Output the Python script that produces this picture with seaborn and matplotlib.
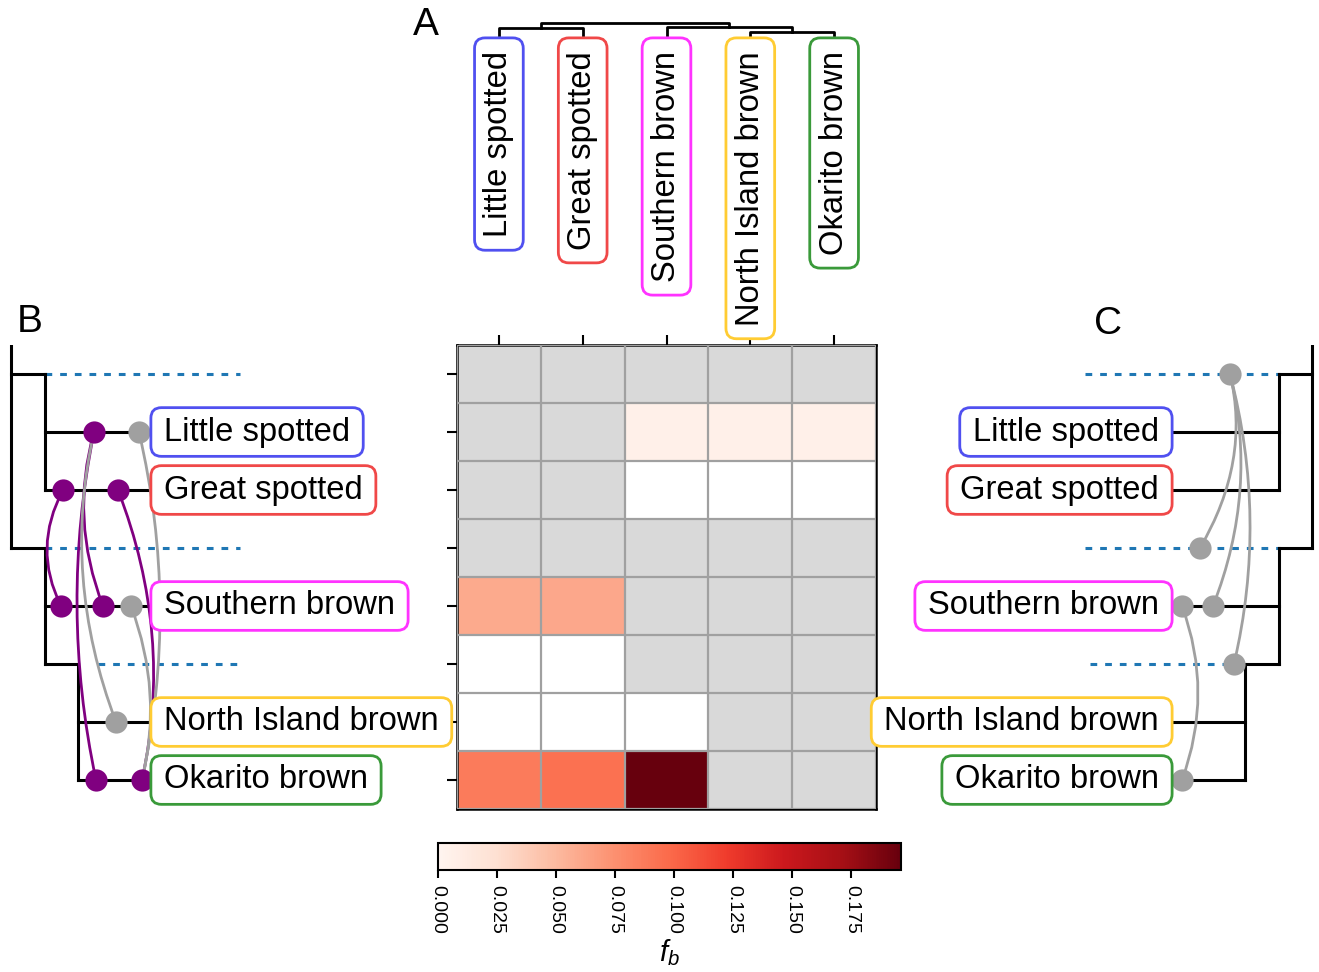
import numpy as np
import pandas as pd
import matplotlib
matplotlib.use("Agg")
import matplotlib.pyplot as plt
import seaborn as sns
from matplotlib.path import Path
from matplotlib.patches import PathPatch

plt.rcParams['font.family'] = ['Liberation Sans', 'DejaVu Sans']
plt.rcParams['mathtext.fontset'] = 'custom'
plt.rcParams['mathtext.it'] = 'Liberation Sans:italic'
plt.rcParams['mathtext.rm'] = 'Liberation Sans'

# ---------------- data ----------------
species = ["Little spotted", "Great spotted", "Southern brown",
           "North Island brown", "Okarito brown"]
species_colors = ["#5050f0", "#f04848", "#ff33ff", "#ffcc33", "#3a9a3a"]
row_names = ["n1", "Little spotted", "Great spotted", "n2",
             "Southern brown", "n3", "North Island brown", "Okarito brown"]
nan = np.nan
fb_values = [
    [nan, nan, nan, nan, nan],
    [nan, nan, 0.006, 0.006, 0.006],
    [nan, nan, 0.0, 0.0, 0.0],
    [nan, nan, nan, nan, nan],
    [0.059, 0.061, nan, nan, nan],
    [0.0, 0.0, nan, nan, nan],
    [0.0, 0.0, 0.0, nan, nan],
    [0.088, 0.094, 0.196, nan, nan],
]
fb_max = 0.196
cbar_ticks = [0.000, 0.025, 0.050, 0.075, 0.100, 0.125, 0.150, 0.175]

# tree topology (shared by panels B and C)
tree_children = {"root": ["n1", "n2"],
                 "n1": ["Little spotted", "Great spotted"],
                 "n2": ["Southern brown", "n3"],
                 "n3": ["North Island brown", "Okarito brown"]}
# node depths (horizontal positions, px) in panels B and C
left_depth = {"root": 11, "n1": 45, "n2": 45, "n3": 78}
left_tip = 150
right_depth = {"root": 1312, "n1": 1279, "n2": 1279, "n3": 1245}
right_tip = 1172

# dotted reference lines at internal branches: (node, x_start, x_end)
left_guides = [("n1", 45, 240), ("n2", 45, 240), ("n3", 98, 237)]
right_guides = [("n1", 1085, 1279), ("n2", 1085, 1279), ("n3", 1090, 1245)]

PURPLE = "#800080"
GREY = "#a0a0a0"
# event points on branches: (branch, x, colour)
left_points = [("Little spotted", 94, PURPLE), ("Little spotted", 139, GREY),
               ("Great spotted", 63, PURPLE), ("Great spotted", 118, PURPLE),
               ("Southern brown", 61, PURPLE), ("Southern brown", 103, PURPLE),
               ("Southern brown", 131, GREY),
               ("North Island brown", 116, GREY),
               ("Okarito brown", 96, PURPLE), ("Okarito brown", 142, PURPLE)]
# links: (branch_from, x_from, branch_to, x_to, x_at_middle, colour)
left_links = [("Great spotted", 63, "Southern brown", 61, 47, PURPLE),
              ("Little spotted", 94, "Okarito brown", 96, 77, PURPLE),
              ("Little spotted", 94, "Southern brown", 103, 84, PURPLE),
              ("Great spotted", 118, "Okarito brown", 142, 152, PURPLE),
              ("Little spotted", 139, "Okarito brown", 142, 160, GREY),
              ("Southern brown", 131, "Okarito brown", 142, 150, GREY),
              ("Little spotted", 94, "North Island brown", 116, 83, GREY)]
right_points = [("n1", 1230, GREY), ("n2", 1200, GREY),
                ("Southern brown", 1213, GREY), ("Southern brown", 1182, GREY),
                ("n3", 1234, GREY), ("Okarito brown", 1182, GREY)]
right_links = [("n1", 1230, "n2", 1200, 1233, GREY),
               ("n1", 1230, "Southern brown", 1213, 1240, GREY),
               ("n1", 1230, "n3", 1234, 1250, GREY),
               ("Southern brown", 1182, "Okarito brown", 1182, 1198, GREY)]

# top dendrogram (panel A): heights in px from top
dendro_leaf_base = 35
dendro_joins = [  # (left child, right child, height)
    ("Little spotted", "Great spotted", 28),
    ("North Island brown", "Okarito brown", 32),
    ("Southern brown", "NI+OK", 27),
    ("LS+GS", "SB+NIOK", 23),
]
join_names = ["LS+GS", "NI+OK", "SB+NIOK", "root"]

# ---------------- figure ----------------
W, H = 1319, 972
fig = plt.figure(figsize=(W / 100, H / 100), dpi=100)


def fax(x0, y0, x1, y1):
    return fig.add_axes([x0 / W, 1 - y1 / H, (x1 - x0) / W, (y1 - y0) / H])


HM = (457, 345, 876, 809)
ax_hm = fax(*HM)
cax = fax(438, 843, 901, 870)
ax_l = fax(0, HM[1], HM[0], HM[3])
ax_r = fax(HM[2], HM[1], W, HM[3])
ax_t = fax(HM[0], 0, HM[2], HM[1])

cmap = plt.get_cmap("Reds").copy()
cmap.set_under("white")
df = pd.DataFrame(fb_values, index=row_names, columns=species)
sns.heatmap(df, ax=ax_hm, cmap=cmap, vmin=1e-6, vmax=fb_max, cbar_ax=cax,
            cbar_kws=dict(orientation="horizontal", ticks=cbar_ticks),
            xticklabels=False, yticklabels=False)
ax_hm.set_facecolor("#d9d9d9")
nr, nc = df.shape
ax_hm.hlines(np.arange(nr + 1), 0, nc, color="#a0a0a0", lw=1.6, zorder=3)
ax_hm.vlines(np.arange(nc + 1), 0, nr, color="#a0a0a0", lw=1.6, zorder=3)
for s in ax_hm.spines.values():
    s.set_visible(True)
    s.set_color("black")
    s.set_linewidth(1.8)
ax_hm.set_xticks(np.arange(nc) + 0.5)
ax_hm.set_yticks(np.arange(nr) + 0.5)
ax_hm.set_xticklabels([])
ax_hm.set_yticklabels([])
ax_hm.xaxis.tick_top()
ax_hm.tick_params(axis="x", top=True, bottom=False, length=7, width=1.5)
ax_hm.tick_params(axis="y", left=True, right=False, length=7, width=1.5)
ax_hm.set_xlabel("")
ax_hm.set_ylabel("")

# colorbar
cb = ax_hm.collections[0].colorbar
cb.outline.set_linewidth(1.5)
cb.outline.set_edgecolor("black")
cax.set_xlim(0, fb_max)
cax.set_xticks(cbar_ticks)
cax.set_xticklabels([f"{t:.3f}" for t in cbar_ticks], rotation=-90, fontsize=14)
cax.tick_params(axis="x", length=6, width=1.5, pad=5)
cax.set_xlabel("$f_b$", fontsize=21, labelpad=2)


# ---------------- label box style ----------------
def label_box(x0, y0, width, height, mutation_size):
    px, py, r = 0.40 * mutation_size, 0.27 * mutation_size, 0.32 * mutation_size
    x0, y0 = x0 - px, y0 - py
    x1, y1 = x0 + width + 2 * px, y0 + height + 2 * py
    verts = [(x0 + r, y0), (x1 - r, y0), (x1, y0), (x1, y0 + r),
             (x1, y1 - r), (x1, y1), (x1 - r, y1), (x0 + r, y1),
             (x0, y1), (x0, y1 - r), (x0, y0 + r), (x0, y0),
             (x0 + r, y0), (x0 + r, y0)]
    codes = [Path.MOVETO, Path.LINETO, Path.CURVE3, Path.CURVE3,
             Path.LINETO, Path.CURVE3, Path.CURVE3, Path.LINETO,
             Path.CURVE3, Path.CURVE3, Path.LINETO, Path.CURVE3,
             Path.CURVE3, Path.CLOSEPOLY]
    return Path(verts, codes)


# ---------------- trees ----------------
def row_y(name):
    if name == "root":
        return 0.0
    return row_names.index(name) + 0.5


def draw_tree(ax, depth, tip):
    def d(n):
        return depth.get(n, tip)
    for node, kids in tree_children.items():
        ys = [row_y(k) for k in kids]
        ax.plot([d(node), d(node)], [row_y(node), max(ys)], color="black",
                lw=2.2, solid_capstyle="projecting", zorder=2)
        for k in kids:
            ax.plot([d(node), d(k)], [row_y(k), row_y(k)], color="black",
                    lw=2.2, solid_capstyle="projecting", zorder=2)


def draw_guides(ax, guides):
    for node, xa, xb in guides:
        ax.plot([xa, xb], [row_y(node)] * 2, color="#1f77b4", lw=2.2,
                linestyle=(0, (2.2, 2.6)), zorder=1)


def draw_links(ax, links):
    for a, xa, b, xb, xm, col in links:
        ya, yb = row_y(a), row_y(b)
        cx = 2 * xm - 0.5 * (xa + xb)
        cy = 0.5 * (ya + yb)
        p = Path([(xa, ya), (cx, cy), (xb, yb)],
                 [Path.MOVETO, Path.CURVE3, Path.CURVE3])
        ax.add_patch(PathPatch(p, fc="none", ec=col, lw=2.0, zorder=3))


def draw_points(ax, pts):
    for br, x, col in pts:
        ax.plot([x], [row_y(br)], "o", color=col, ms=16, mec="none", zorder=4)


for ax, xl in ((ax_l, (0, HM[0])), (ax_r, (HM[2], W))):
    ax.set_xlim(*xl)
    ax.set_ylim(nr, 0)
    ax.axis("off")

draw_tree(ax_l, left_depth, left_tip)
draw_guides(ax_l, left_guides)
draw_links(ax_l, left_links)
draw_points(ax_l, left_points)
draw_tree(ax_r, right_depth, right_tip)
draw_guides(ax_r, right_guides)
draw_links(ax_r, right_links)
draw_points(ax_r, right_points)

LABEL_FS = 23.6
for sp, col in zip(species, species_colors):
    bb = dict(boxstyle=label_box, fc="white", ec=col, lw=2.0)
    ax_l.text(left_tip + 14, row_y(sp), sp, ha="left", va="center",
              fontsize=LABEL_FS, bbox=bb, zorder=5, clip_on=False)
    ax_r.text(right_tip - 13, row_y(sp), sp, ha="right", va="center",
              fontsize=LABEL_FS, bbox=bb, zorder=5, clip_on=False)

# ---------------- top dendrogram ----------------
ax_t.set_xlim(0, nc)
ax_t.set_ylim(HM[1], 0)
ax_t.axis("off")
pos = {sp: (i + 0.5, dendro_leaf_base) for i, sp in enumerate(species)}
for (a, b, h), nm in zip(dendro_joins, join_names):
    xa, ha_ = pos[a]
    xb, hb_ = pos[b]
    ax_t.plot([xa, xa, xb, xb], [ha_, h, h, hb_], color="black", lw=2.0, zorder=2)
    pos[nm] = ((xa + xb) / 2, h)
for sp, col in zip(species, species_colors):
    ax_t.text(species.index(sp) + 0.5, 51, sp, rotation=90, ha="center",
              va="top", fontsize=LABEL_FS, zorder=5,
              bbox=dict(boxstyle=label_box, fc="white", ec=col, lw=2.0))

# panel letters
for lab, x, y in (("A", 426, 25), ("B", 30, 322), ("C", 1108, 324)):
    fig.text(x / W, 1 - y / H, lab, ha="center", va="center", fontsize=28)

fig.savefig("out.png", dpi=100)
